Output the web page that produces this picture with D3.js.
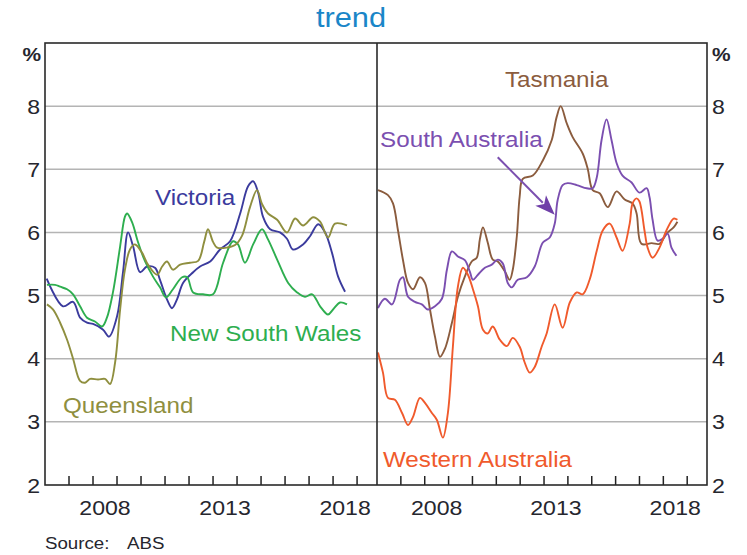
<!DOCTYPE html>
<html>
<head>
<meta charset="utf-8">
<script src="https://cdn.jsdelivr.net/npm/d3@7"></script>
<style>
  body { margin: 0; background: #fff; }
  svg { display: block; }
  text { font-family: "Liberation Sans", Arial, sans-serif; }
</style>
</head>
<body>
<svg id="chart" width="747" height="555"></svg>
<script>
// Unemployment rate by state, trend, per cent. [year, value]
const victoria = [
  [2006.07,5.27],[2006.75,4.83],[2007.17,4.90],[2007.46,4.65],[2007.75,4.57],[2008.00,4.55],
  [2008.42,4.46],[2008.67,4.35],[2009.00,4.67],[2009.25,5.37],[2009.46,6.00],[2009.67,5.78],
  [2009.96,5.37],[2010.25,5.46],[2010.58,5.44],[2010.79,5.25],[2011.08,4.94],[2011.29,4.80],
  [2011.50,4.94],[2011.75,5.20],[2012.17,5.37],[2012.46,5.46],[2012.88,5.54],[2013.29,5.73],
  [2013.71,5.86],[2014.13,6.30],[2014.46,6.73],[2014.67,6.81],[2014.88,6.63],[2015.08,6.25],
  [2015.38,6.05],[2015.79,6.00],[2016.08,5.90],[2016.33,5.73],[2016.75,5.81],[2017.04,5.94],
  [2017.38,6.13],[2017.67,6.00],[2017.96,5.67],[2018.21,5.30],[2018.50,5.06]
];
const newSouthWales = [
  [2006.08,5.17],[2006.42,5.17],[2006.63,5.14],[2006.92,5.10],[2007.17,5.02],[2007.46,4.83],
  [2007.75,4.65],[2008.08,4.59],[2008.38,4.51],[2008.58,4.65],[2008.83,5.05],[2009.13,5.78],
  [2009.33,6.25],[2009.42,6.30],[2009.63,6.16],[2009.88,5.84],[2010.17,5.54],[2010.50,5.30],
  [2010.79,5.13],[2011.04,4.97],[2011.33,5.10],[2011.71,5.29],[2011.92,5.29],[2012.17,5.05],
  [2012.58,5.02],[2013.00,5.02],[2013.42,5.52],[2013.83,5.86],[2014.04,5.81],[2014.33,5.52],
  [2014.67,5.81],[2015.04,6.05],[2015.29,5.89],[2015.67,5.57],[2016.13,5.20],[2016.50,5.05],
  [2016.83,4.98],[2017.13,5.02],[2017.46,4.83],[2017.79,4.70],[2018.00,4.78],[2018.29,4.89],
  [2018.58,4.86]
];
const queensland = [
  [2006.08,4.86],[2006.33,4.78],[2006.63,4.57],[2006.92,4.30],[2007.17,4.00],[2007.46,3.65],
  [2007.67,3.62],[2007.88,3.68],[2008.21,3.67],[2008.50,3.68],[2008.71,3.60],[2008.92,3.94],
  [2009.13,4.78],[2009.33,5.41],[2009.54,5.73],[2009.75,5.81],[2010.04,5.68],[2010.29,5.49],
  [2010.67,5.33],[2010.88,5.46],[2011.08,5.54],[2011.33,5.41],[2011.63,5.49],[2012.04,5.52],
  [2012.38,5.55],[2012.63,5.85],[2012.79,6.05],[2013.00,5.85],[2013.17,5.76],[2013.58,5.76],
  [2013.92,5.80],[2014.21,5.95],[2014.54,6.40],[2014.83,6.67],[2015.04,6.45],[2015.29,6.30],
  [2015.67,6.20],[2016.08,6.00],[2016.42,6.22],[2016.75,6.11],[2017.17,6.24],[2017.46,6.17],
  [2017.79,5.92],[2018.08,6.14],[2018.58,6.11]
];
const tasmania = [
  [2006.04,6.67],[2006.46,6.59],[2006.67,6.46],[2006.88,6.03],[2007.09,5.56],[2007.30,5.20],
  [2007.51,5.10],[2007.80,5.29],[2008.01,5.20],[2008.22,4.78],[2008.43,4.35],[2008.64,4.03],
  [2008.85,4.16],[2009.14,4.57],[2009.39,4.98],[2009.68,5.30],[2009.97,5.54],[2010.18,5.60],
  [2010.31,5.89],[2010.44,6.08],[2010.64,5.84],[2010.85,5.57],[2011.06,5.54],[2011.36,5.38],
  [2011.56,5.25],[2011.69,5.41],[2011.86,5.94],[2011.98,6.57],[2012.11,6.85],[2012.53,6.90],
  [2012.95,7.14],[2013.32,7.46],[2013.53,7.83],[2013.70,8.00],[2013.95,7.73],[2014.20,7.51],
  [2014.62,7.25],[2014.83,7.01],[2015.04,6.67],[2015.33,6.62],[2015.67,6.40],[2016.04,6.65],
  [2016.38,6.52],[2016.71,6.46],[2016.88,6.30],[2017.08,5.82],[2017.51,5.83],[2017.84,5.82],
  [2018.13,5.98],[2018.43,6.08],[2018.59,6.17]
];
const southAustralia = [
  [2006.04,4.80],[2006.33,4.95],[2006.63,4.86],[2006.96,5.25],[2007.09,5.29],[2007.30,4.98],
  [2007.59,4.90],[2007.88,4.86],[2008.13,4.78],[2008.43,4.83],[2008.72,4.95],[2008.93,5.41],
  [2009.14,5.70],[2009.39,5.62],[2009.68,5.56],[2009.89,5.38],[2010.02,5.25],[2010.23,5.33],
  [2010.52,5.44],[2010.81,5.49],[2011.06,5.57],[2011.27,5.51],[2011.48,5.20],[2011.65,5.13],
  [2011.90,5.25],[2012.28,5.29],[2012.61,5.46],[2012.95,5.84],[2013.24,5.92],[2013.45,6.14],
  [2013.57,6.51],[2013.78,6.75],[2013.99,6.78],[2014.37,6.75],[2014.79,6.70],[2015.04,6.70],
  [2015.21,6.87],[2015.41,7.46],[2015.62,7.79],[2015.83,7.46],[2016.04,7.10],[2016.29,6.90],
  [2016.67,6.79],[2017.00,6.63],[2017.30,6.70],[2017.42,6.56],[2017.55,6.20],[2017.76,5.87],
  [2017.97,5.90],[2018.18,5.98],[2018.34,5.76],[2018.55,5.63]
];
const westernAustralia = [
  [2006.04,4.10],[2006.25,3.78],[2006.46,3.38],[2006.75,3.35],[2007.05,3.14],[2007.30,2.95],
  [2007.51,3.08],[2007.80,3.38],[2008.01,3.30],[2008.30,3.14],[2008.51,3.03],[2008.76,2.75],
  [2008.97,3.14],[2009.18,4.19],[2009.39,5.14],[2009.60,5.44],[2009.81,5.33],[2010.02,5.10],
  [2010.23,4.83],[2010.44,4.46],[2010.64,4.40],[2010.85,4.51],[2011.15,4.30],[2011.44,4.20],
  [2011.69,4.33],[2011.98,4.19],[2012.19,3.94],[2012.40,3.78],[2012.61,3.87],[2012.90,4.19],
  [2013.11,4.40],[2013.45,4.86],[2013.78,4.49],[2014.08,4.89],[2014.37,5.05],[2014.62,5.02],
  [2014.91,5.25],[2015.21,5.71],[2015.46,6.03],[2015.75,6.14],[2016.04,5.92],[2016.29,5.71],
  [2016.59,6.14],[2016.71,6.46],[2016.88,6.54],[2017.00,6.49],[2017.21,6.03],[2017.34,5.76],
  [2017.55,5.60],[2017.84,5.76],[2018.13,6.03],[2018.43,6.22],[2018.59,6.20]
];

const yTickValues = [2, 3, 4, 5, 6, 7, 8];
const yGridValues = [3, 4, 5, 6, 7, 8];
const xTickYears = d3.range(2007, 2020);
const xLabelYears = [2008, 2013, 2018];
const titleText = "trend";
const sourceLabel = "Source:";
const sourceName = "ABS";

// Panel definitions: series, colour, label text and label anchor in data units
const leftSeries = [
  { name: "Victoria",        data: victoria,       color: "#3b3b9d", label: [2010.58, 6.43] },
  { name: "New South Wales", data: newSouthWales,  color: "#2eae4f", label: [2011.21, 4.28] },
  { name: "Queensland",      data: queensland,     color: "#8f8f3f", label: [2006.75, 3.14] }
];
const rightSeries = [
  { name: "Tasmania",          data: tasmania,         color: "#8b5c3e", label: [2011.36, 8.30] },
  { name: "South Australia",   data: southAustralia,   color: "#7b4fb0", label: [2006.13, 7.35] },
  { name: "Western Australia", data: westernAustralia, color: "#f05a2c", label: [2006.25, 2.28] }
];
// Pointer from the South Australia label to its line, in data units
const saArrow = { from: [2011.06, 7.19], to: [2013.45, 6.28] };

const svg = d3.select("#chart");
const box = { top: 43, bottom: 485, left: 45, mid: 377, right: 707 };
const xDomain = [2006, 2019.83];
const y = d3.scaleLinear().domain([2, 9]).range([box.bottom, box.top]);
const xL = d3.scaleLinear().domain(xDomain).range([box.left, box.mid]);
const xR = d3.scaleLinear().domain(xDomain).range([box.mid, box.right]);

const SX = 1.1; // horizontal stretch of all lettering
function label(g, txt, x, yy, opts = {}) {
  return g.append("text")
    .attr("transform", `translate(${x},${yy}) scale(${SX},1)`)
    .attr("text-anchor", opts.anchor || "start")
    .attr("font-size", opts.size || 21)
    .attr("font-weight", opts.weight || "normal")
    .attr("fill", opts.color || "#26262e")
    .text(txt);
}

function drawPanel(x, series) {
  const g = svg.append("g");
  // gridlines
  g.selectAll("line.grid").data(yGridValues).join("line")
    .attr("x1", x.range()[0]).attr("x2", x.range()[1])
    .attr("y1", d => y(d)).attr("y2", d => y(d))
    .attr("stroke", "#b4b4b4").attr("stroke-width", 1.5);
  // year ticks pointing up from the base
  g.selectAll("line.tick").data(xTickYears).join("line")
    .attr("x1", d => x(d)).attr("x2", d => x(d))
    .attr("y1", box.bottom).attr("y2", box.bottom - 9)
    .attr("stroke", "#222").attr("stroke-width", 1.5);
  // year labels centred in the year
  xLabelYears.forEach(yr => label(g, String(yr), x(yr + 0.5), 515, { anchor: "middle" }));

  const line = d3.line()
    .x(d => x(d[0])).y(d => y(d[1]))
    .curve(d3.curveCatmullRom.alpha(0.5));
  series.forEach(s => {
    g.append("path").attr("d", line(s.data))
      .attr("fill", "none").attr("stroke", s.color)
      .attr("stroke-width", 1.9).attr("stroke-linejoin", "round");
    label(g, s.name, x(s.label[0]), y(s.label[1]), { size: 22, color: s.color });
  });
  return g;
}

drawPanel(xL, leftSeries);
const gr = drawPanel(xR, rightSeries);

// arrow for South Australia
{
  const [fx, fy] = [xR(saArrow.from[0]), y(saArrow.from[1])];
  const [tx, ty] = [xR(saArrow.to[0]), y(saArrow.to[1])];
  const ang = Math.atan2(ty - fy, tx - fx);
  const headLen = 20, headW = 7.5;
  const bx = tx - headLen * Math.cos(ang), by = ty - headLen * Math.sin(ang);
  gr.append("line").attr("x1", fx).attr("y1", fy).attr("x2", bx + 3 * Math.cos(ang)).attr("y2", by + 3 * Math.sin(ang))
    .attr("stroke", "#7b4fb0").attr("stroke-width", 2);
  const px = -Math.sin(ang), py = Math.cos(ang);
  gr.append("polygon")
    .attr("points", [[tx, ty], [bx + headW * px, by + headW * py], [bx + 5 * Math.cos(ang), by + 5 * Math.sin(ang)], [bx - headW * px, by - headW * py]].map(p => p.join(",")).join(" "))
    .attr("fill", "#6f3fa8");
}

// frame
const frame = svg.append("g").attr("fill", "none").attr("stroke", "#2a2a2a").attr("stroke-width", 1.6);
frame.append("rect").attr("x", box.left).attr("y", box.top)
  .attr("width", box.right - box.left).attr("height", box.bottom - box.top);
frame.append("line").attr("x1", box.mid).attr("x2", box.mid).attr("y1", box.top).attr("y2", box.bottom);

// value axes on both sides
const axes = svg.append("g");
yTickValues.forEach(v => {
  label(axes, String(v), 40, y(v) + 7.5, { anchor: "end" });
  label(axes, String(v), 712, y(v) + 7.5, { anchor: "start" });
});
label(axes, "%", 41, 61, { anchor: "end", size: 19, weight: "bold" });
label(axes, "%", 712, 61, { anchor: "start", size: 19, weight: "bold" });

// title and source
label(svg, titleText, 351, 27, { anchor: "middle", size: 28, color: "#1a86c8" });
label(svg, sourceLabel, 45, 549, { size: 17 });
label(svg, sourceName, 127, 549, { size: 17 });
</script>
</body>
</html>
